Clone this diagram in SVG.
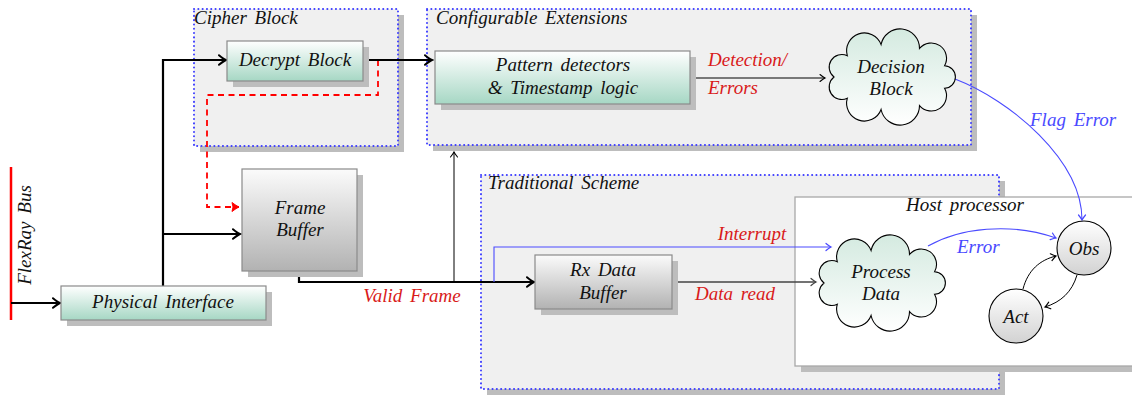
<svg xmlns="http://www.w3.org/2000/svg" xmlns:xlink="http://www.w3.org/1999/xlink" width="1132" height="395" viewBox="0 0 1132 395">
  <style>
    text { font-family: "Liberation Serif", "Times New Roman", serif; font-style: italic; font-size: 19px; word-spacing: 3px; fill: #111; }
    .mid { text-anchor: middle; }
    .red { fill: #d91a1a; }
    .blue { fill: #4a4aff; }
    .shadow { fill: #bdbdbd; stroke: none; }
    .group { fill: #f0f0f0; stroke: #3d3dff; stroke-width: 2; stroke-dasharray: 0.1 4.2; stroke-linecap: round; }
    .box { stroke: #8a8a8a; stroke-width: 1.2; }
    .thick { fill: none; stroke: #000; stroke-width: 2.2; }
    .thin { fill: none; stroke: #000; stroke-width: 1; }
    .bl { fill: none; stroke: #4a4aff; stroke-width: 1.1; }
    .dash { fill: none; stroke: #f00; stroke-width: 1.8; stroke-dasharray: 6 4.5; }
    .cloud { stroke: #000; stroke-width: 1.1; }
  </style>
  <defs>
    <linearGradient id="gGreen" x1="0" y1="0" x2="0" y2="1">
      <stop offset="0" stop-color="#ffffff"/>
      <stop offset="1" stop-color="#a6d7c4"/>
    </linearGradient>
    <linearGradient id="gGray" x1="0" y1="0" x2="0" y2="1">
      <stop offset="0" stop-color="#fbfbfb"/>
      <stop offset="1" stop-color="#b2b2b2"/>
    </linearGradient>
    <linearGradient id="gCloud" x1="0" y1="0" x2="0" y2="1">
      <stop offset="0" stop-color="#d4eae0"/>
      <stop offset="1" stop-color="#ffffff"/>
    </linearGradient>
    <linearGradient id="gCircle" x1="0" y1="0" x2="0" y2="1">
      <stop offset="0" stop-color="#ffffff"/>
      <stop offset="1" stop-color="#d2d2d2"/>
    </linearGradient>
    <!-- cloud outline centred on the origin, nine puffs -->
    <path id="cloudShape" d="M-57,0 A12.6,12.6 0 0 1 -43.66,-21.22 A17.8,17.8 0 0 1 -9.92,-32.5 A19.4,19.4 0 0 1 28.5,-28.58 A15.3,15.3 0 0 1 53.58,-11.29 A11.3,11.3 0 0 1 53.58,11.29 A15.3,15.3 0 0 1 28.5,28.58 A19.4,19.4 0 0 1 -9.92,32.5 A17.8,17.8 0 0 1 -43.66,21.22 A12.6,12.6 0 0 1 -57,0 Z"/>
    <marker id="arK" viewBox="-8 -6 10 12" refX="0" refY="0" markerWidth="10" markerHeight="12" markerUnits="userSpaceOnUse" orient="auto">
      <path d="M-7,-4.8 Q-2.5,-1 0,0 Q-2.5,1 -7,4.8" fill="none" stroke="#000" stroke-width="2" stroke-linecap="round"/>
    </marker>
    <marker id="arT" viewBox="-6 -5 8 10" refX="0" refY="0" markerWidth="8" markerHeight="10" markerUnits="userSpaceOnUse" orient="auto">
      <path d="M-5,-3.5 Q-1.6,-0.7 0,0 Q-1.6,0.7 -5,3.5" fill="none" stroke="#000" stroke-width="1.1" stroke-linecap="round"/>
    </marker>
    <marker id="arG" viewBox="-6 -5 8 10" refX="0" refY="0" markerWidth="8" markerHeight="10" markerUnits="userSpaceOnUse" orient="auto">
      <path d="M-5,-3.5 Q-1.6,-0.7 0,0 Q-1.6,0.7 -5,3.5" fill="none" stroke="#444" stroke-width="1.2" stroke-linecap="round"/>
    </marker>
    <marker id="arB" viewBox="-6 -5 8 10" refX="0" refY="0" markerWidth="8" markerHeight="10" markerUnits="userSpaceOnUse" orient="auto">
      <path d="M-5,-3.5 Q-1.6,-0.7 0,0 Q-1.6,0.7 -5,3.5" fill="none" stroke="#4a4aff" stroke-width="1.2" stroke-linecap="round"/>
    </marker>
    <marker id="arR" viewBox="-8 -6 10 12" refX="0" refY="0" markerWidth="10" markerHeight="12" markerUnits="userSpaceOnUse" orient="auto">
      <path d="M-7,-4.5 Q-2.5,-1 0,0 Q-2.5,1 -7,4.5 Q-5,0 -7,-4.5 Z" fill="#f00" stroke="#f00" stroke-width="1" stroke-linejoin="round"/>
    </marker>
  </defs>

  <rect width="1132" height="395" fill="#ffffff"/>

  <!-- grouping frames -->
  <g id="cipher-block">
    <rect class="shadow" x="200" y="15" width="204" height="137"/>
    <rect class="group" x="194" y="9" width="204" height="137"/>
    <text x="194" y="24">Cipher Block</text>
  </g>
  <g id="configurable-extensions">
    <rect class="shadow" x="433" y="15" width="544" height="136"/>
    <rect class="group" x="427" y="9" width="544" height="136"/>
    <text x="436" y="24">Configurable Extensions</text>
  </g>
  <g id="traditional-scheme">
    <rect class="shadow" x="487" y="181" width="518" height="214"/>
    <rect class="group" x="481" y="175" width="518" height="214"/>
    <text x="488" y="189">Traditional Scheme</text>
  </g>
  <g id="host-processor">
    <rect class="shadow" x="801" y="203" width="345" height="169"/>
    <rect x="795" y="197" width="345" height="169" fill="#ffffff" stroke="#a8a8a8" stroke-width="1.3"/>
    <text class="mid" x="965" y="211">Host processor</text>
  </g>

  <!-- connectors -->
  <g id="connectors">
    <line x1="11" y1="167" x2="11" y2="320" stroke="#f00" stroke-width="2.5"/>
    <path class="thick" d="M11,303 H60" marker-end="url(#arK)"/>
    <path class="thick" d="M163,286 V60 H226" marker-end="url(#arK)"/>
    <path class="thick" d="M163,234 H240" marker-end="url(#arK)"/>
    <path class="dash" d="M378,60 V95 H207 V207 H239" marker-end="url(#arR)"/>
    <path class="thick" d="M363,60 H432" marker-end="url(#arK)"/>
    <path class="thin" d="M690,78 H825" marker-end="url(#arT)"/>
    <path class="thick" d="M299,271 V282 H534" marker-end="url(#arK)"/>
    <path class="thin" d="M454,282 V152" marker-end="url(#arT)"/>
    <path class="bl" d="M494,282 V247 H831" marker-end="url(#arB)"/>
    <path d="M672,282 H816" fill="none" stroke="#444" stroke-width="1.3" marker-end="url(#arG)"/>
    <path class="bl" d="M955,79 C1010,100 1082,160 1082,220" marker-end="url(#arB)"/>
    <path class="bl" d="M928,246 C960,228 1010,222 1056,238" marker-end="url(#arB)"/>
    <path class="thin" d="M1023,289 C1028,270 1040,260 1056,256" marker-end="url(#arT)"/>
    <path class="thin" d="M1077,275 C1072,292 1061,302 1045,307" marker-end="url(#arT)"/>
    <text x="31" y="235" class="mid" transform="rotate(-90 31 235)">FlexRay Bus</text>
    <text class="mid red" x="412" y="302">Valid Frame</text>
    <text class="mid red" x="752" y="240">Interrupt</text>
    <text class="mid red" x="735" y="300">Data read</text>
    <text class="red" x="708" y="66">Detection/</text>
    <text class="red" x="708" y="94">Errors</text>
    <text class="blue" x="1030" y="126">Flag Error</text>
    <text class="blue" x="957" y="253">Error</text>
  </g>

  <!-- blocks -->
  <g id="decrypt-block">
    <rect class="shadow" x="233" y="47" width="136" height="40"/>
    <rect class="box" x="227" y="41" width="136" height="40" fill="url(#gGreen)"/>
    <text class="mid" x="295" y="66">Decrypt Block</text>
  </g>
  <g id="pattern-detectors">
    <rect class="shadow" x="441" y="57" width="255" height="53"/>
    <rect class="box" x="435" y="51" width="255" height="53" fill="url(#gGreen)"/>
    <text class="mid" x="563" y="71">Pattern detectors</text>
    <text class="mid" x="563" y="94">&amp; Timestamp logic</text>
  </g>
  <g id="decision-block">
    <use xlink:href="#cloudShape" class="cloud" transform="translate(891 77)" fill="url(#gCloud)"/>
    <text class="mid" x="891" y="73">Decision</text>
    <text class="mid" x="891" y="95">Block</text>
  </g>
  <g id="frame-buffer">
    <rect class="shadow" x="248" y="175" width="115" height="102"/>
    <rect class="box" x="242" y="169" width="115" height="102" fill="url(#gGray)"/>
    <text class="mid" x="300" y="214">Frame</text>
    <text class="mid" x="300" y="236">Buffer</text>
  </g>
  <g id="physical-interface">
    <rect class="shadow" x="67" y="292" width="205" height="34"/>
    <rect class="box" x="61" y="286" width="205" height="34" fill="url(#gGreen)"/>
    <text class="mid" x="163" y="308">Physical Interface</text>
  </g>
  <g id="rx-data-buffer">
    <rect class="shadow" x="541" y="261" width="137" height="54"/>
    <rect class="box" x="535" y="255" width="137" height="54" fill="url(#gGray)"/>
    <text class="mid" x="603" y="276">Rx Data</text>
    <text class="mid" x="603" y="299">Buffer</text>
  </g>
  <g id="process-data">
    <use xlink:href="#cloudShape" class="cloud" transform="translate(881 283)" fill="url(#gCloud)"/>
    <text class="mid" x="881" y="278">Process</text>
    <text class="mid" x="881" y="300">Data</text>
  </g>
  <g id="obs">
    <circle cx="1084" cy="248" r="27" fill="url(#gCircle)" stroke="#000" stroke-width="1.1"/>
    <text class="mid" x="1084" y="255">Obs</text>
  </g>
  <g id="act">
    <circle cx="1016" cy="316" r="27" fill="url(#gCircle)" stroke="#000" stroke-width="1.1"/>
    <text class="mid" x="1016" y="323">Act</text>
  </g>
</svg>
